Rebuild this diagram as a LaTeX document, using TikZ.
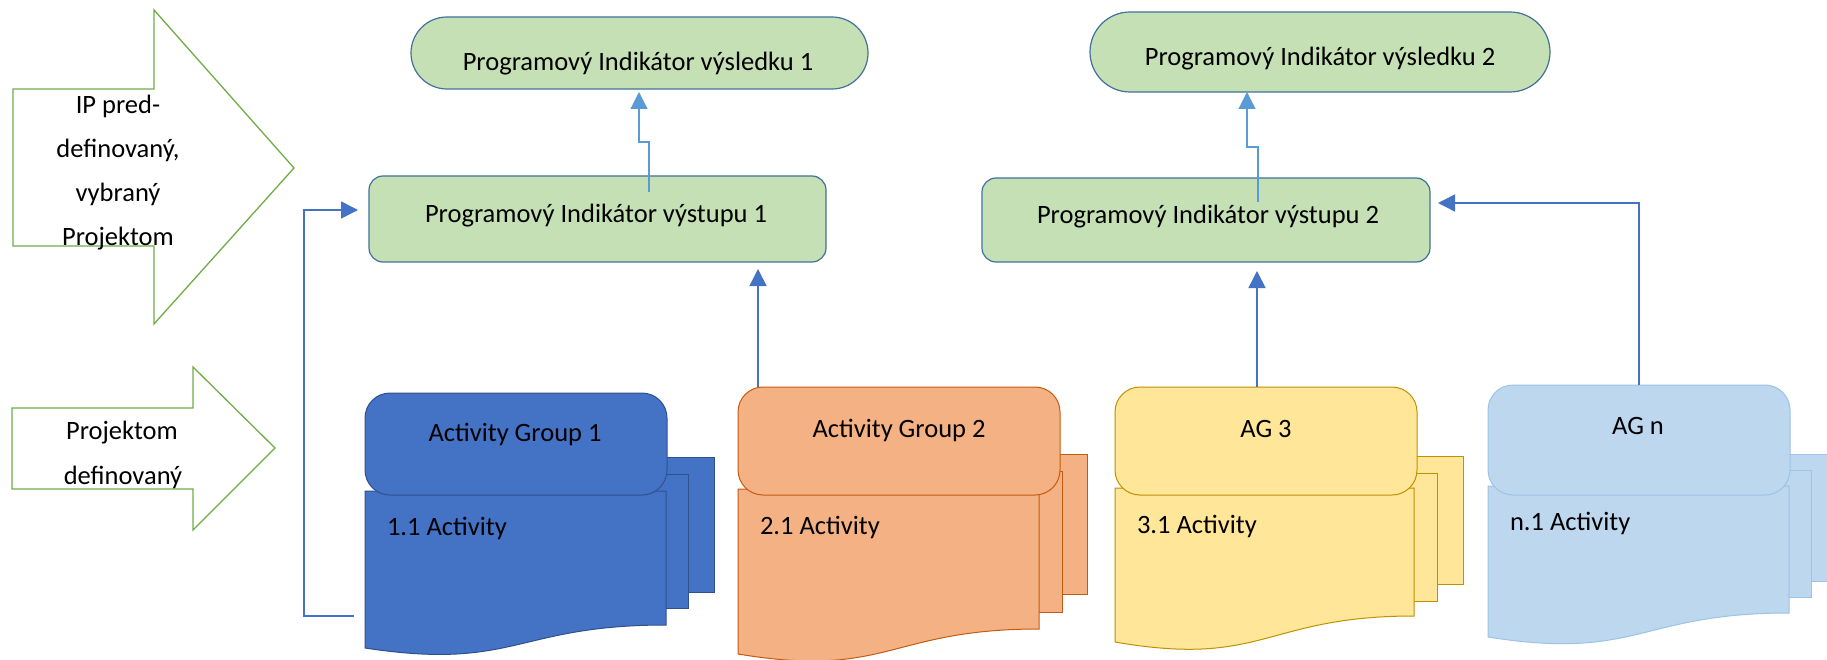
\documentclass[tikz,border=0pt]{standalone}
\usepackage{fontspec}
\setmainfont{Carlito}
\usetikzlibrary{arrows.meta,shapes.misc}
\definecolor{gfill}{HTML}{C5E0B4}
\definecolor{gdraw}{HTML}{41719C}
\definecolor{arrgreen}{HTML}{70AD47}
\definecolor{lblue}{HTML}{5B9BD5}
\definecolor{mblue}{HTML}{4472C4}
\definecolor{aonefill}{HTML}{4472C4}\definecolor{aonedraw}{HTML}{2F528F}
\definecolor{atwofill}{HTML}{F4B183}\definecolor{atwodraw}{HTML}{C55A11}
\definecolor{athreefill}{HTML}{FFE699}\definecolor{athreedraw}{HTML}{BF9000}
\definecolor{anfill}{HTML}{BDD7EE}\definecolor{andraw}{HTML}{9DC3E6}
\begin{document}
\begin{tikzpicture}[x=1pt,y=-1pt,
  every node/.style={inner sep=0pt,outer sep=0pt},
  txt/.style={font=\fontsize{26.5pt}{31pt}\selectfont,anchor=base},
  txtw/.style={font=\fontsize{26.5pt}{31pt}\selectfont,anchor=base west},
  resbox/.style={rounded rectangle,draw=gdraw,fill=gfill,line width=1.2pt},
  outbox/.style={rectangle,rounded corners=14pt,draw=gdraw,fill=gfill,line width=1.2pt},
  bigarrow/.style={draw=arrgreen,line width=1.3pt,fill=white},
  conn/.style={draw=mblue,line width=1.5pt,-{Triangle[length=17pt,width=17pt]}},
  lconn/.style={draw=lblue,line width=1.2pt,-{Triangle[length=17pt,width=17pt]}},
  hdrbox/.style={rectangle,rounded corners=25pt,line width=1pt},
  aone/.style={fill=aonefill,draw=aonedraw,line width=1pt},
  atwo/.style={fill=atwofill,draw=atwodraw,line width=1pt},
  athree/.style={fill=athreefill,draw=athreedraw,line width=1pt},
  an/.style={fill=anfill,draw=andraw,line width=1pt}]
\useasboundingbox (0,0) rectangle (1827,660);
\fill[white] (0,0) rectangle (1827,660);

% left big arrows
\draw[bigarrow] (13,89) -- (154,89) -- (154,10) -- (294,168) -- (154,324) -- (154,246) -- (13,246) -- cycle;
\node[txt] (ipa) at (118,114) {IP pred-};
\node[txt] (ipb) at (118,158) {definovaný,};
\node[txt] (ipc) at (118,202) {vybraný};
\node[txt] (ipd) at (118,246) {Projektom};
\draw[bigarrow] (12,408) -- (193,408) -- (193,367) -- (275,448) -- (193,530) -- (193,489) -- (12,489) -- cycle;
\node[txt] (pda) at (122,439) {Projektom};
\node[txt] (pdb) at (123,484) {definovaný};

% result and output indicators
\node[resbox,minimum width=457pt,minimum height=72pt] (res1) at (639.5,53) {};
\node[txt] (tres1) at (638,71) {Programový Indikátor výsledku 1};
\node[resbox,minimum width=460pt,minimum height=80pt] (res2) at (1320,52) {};
\node[txt] (tres2) at (1320,66) {Programový Indikátor výsledku 2};
\node[outbox,minimum width=457pt,minimum height=86pt] (out1) at (597.5,219) {};
\node[txt] (tout1) at (596,223) {Programový Indikátor výstupu 1};
\node[outbox,minimum width=448pt,minimum height=84pt] (out2) at (1206,220) {};
\node[txt] (tout2) at (1208,224) {Programový Indikátor výstupu 2};

% Activity group 1
\filldraw[aone] (415,457) rectangle (714,592);
\filldraw[aone] (390,474) rectangle (688,608);
\filldraw[aone] (365,491) -- (666,491) -- (666,625) .. controls (515.5,625) and (515.5,671) .. (365,648) -- cycle;
\node[hdrbox,aone,minimum width=302pt,minimum height=102pt] (ag1) at (516,444) {};
\node[txt] (tag1) at (515,441) {Activity Group 1};
\node[txtw] (tac1) at (387,535) {1.1 Activity};
\coordinate (ag1doc) at (365,616);

% Activity group 2
\filldraw[atwo] (788,454) rectangle (1087,594);
\filldraw[atwo] (763,471) rectangle (1062,612);
\filldraw[atwo] (738,489) -- (1039,489) -- (1039,629) .. controls (888.5,629) and (888.5,679) .. (738,654) -- cycle;
\node[hdrbox,atwo,minimum width=322pt,minimum height=108pt] (ag2) at (899,441) {};
\node[txt] (tag2) at (899,437) {Activity Group 2};
\node[txtw] (tac2) at (760,534) {2.1 Activity};

% Activity group 3
\filldraw[athree] (1165,456) rectangle (1463,584);
\filldraw[athree] (1140,473) rectangle (1437,601);
\filldraw[athree] (1115,488) -- (1414,488) -- (1414,616) .. controls (1264.5,616) and (1264.5,668) .. (1115,642) -- cycle;
\node[hdrbox,athree,minimum width=302pt,minimum height=108pt] (ag3) at (1266,441) {};
\node[txt] (tag3) at (1266,437) {AG 3};
\node[txtw] (tac3) at (1137,533) {3.1 Activity};

% Activity group n
\filldraw[an] (1538,454) rectangle (1845,581);
\filldraw[an] (1513,470) rectangle (1811,597);
\filldraw[an] (1488,486) -- (1789,486) -- (1789,613) .. controls (1638.5,613) and (1638.5,661) .. (1488,637) -- cycle;
\node[hdrbox,an,minimum width=302pt,minimum height=110pt] (agn) at (1639,440) {};
\node[txt] (tagn) at (1638,434) {AG n};
\node[txtw] (tacn) at (1510,530) {n.1 Activity};

% connectors output -> result
\coordinate (c1a) at (649,192);
\coordinate (c1b) at (639,142);
\draw[lconn,shorten >=3pt] (c1a) |- (c1b) -- (c1b |- res1.south);
\coordinate (c2a) at (1258,202);
\coordinate (c2b) at (1247,147);
\draw[lconn] (c2a) |- (c2b) -- (c2b |- res2.south);

% connectors activity groups -> outputs
\coordinate (k1) at (304,0);
\coordinate (o1in) at ([yshift=9pt]out1.west);
\draw[conn,shorten <=11pt,shorten >=11pt] (ag1doc) -- (k1 |- ag1doc) -- (k1 |- o1in) -- (o1in);
\coordinate (k2) at (758,0);
\draw[conn,shorten >=7pt] (ag2.north -| k2) -- (out1.south -| k2);
\coordinate (k3) at (1257,0);
\draw[conn,shorten >=9pt] (ag3.north -| k3) -- (out2.south -| k3);
\coordinate (kn) at (1639,0);
\coordinate (o2in) at ([yshift=17pt]out2.east);
\draw[conn,shorten >=8pt] (agn.north -| kn) |- (o2in);
\end{tikzpicture}
\end{document}
